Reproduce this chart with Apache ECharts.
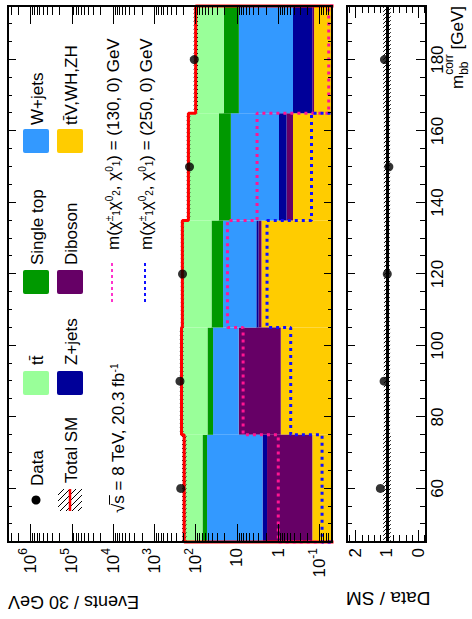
<!DOCTYPE html>
<html>
<head>
<meta charset="utf-8">
<script src="https://cdn.jsdelivr.net/npm/echarts@6.0.0/dist/echarts.min.js"></script>
<style>
  html, body { margin: 0; padding: 0; width: 472px; height: 619px; overflow: hidden; background: #fff; }
  /* The plot is laid out landscape (619 x 472) and turned a quarter turn counter-clockwise. */
  #chart { position: absolute; left: 0; top: 0; width: 619px; height: 472px;
           transform-origin: 0 0; transform: translateY(619px) rotate(-90deg); }
</style>
</head>
<body>
<div id="chart"></div>
<script>
// ---- m_bb^corr binning [GeV] ----
const binEdges = [45, 75, 105, 135, 165, 195];
const binCenters = [60, 90, 120, 150, 180];

// ---- expected events per 30 GeV bin, per background ----
const ttV = [0.15, 0.87, 2.55, 0.44, 0.136];
const diboson = [1.72, 8.13, 0.45, 0.19, 0.014];
const zjets = [0.54, 0.10, 0.40, 0.33, 0.29];
const wjets = [50.6, 28.8, 18.3, 13.1, 8.56];
const singleTop = [15.4, 13.9, 19.7, 13.5, 11.9];
const ttbar = [121.6, 168.2, 168.6, 122.4, 79.1];

// ---- observed data ----
const data = [230, 240, 208, 141, 108];

// ---- signal benchmarks m(chi1+-chi20, chi10) ----
const sig130 = [1.0, 7.1, 17.0, 3.26, 0.060];
const sig250 = [0.087, 0.50, 1.87, 0.157, 0.03];

// ---- relative uncertainty of the total SM prediction ----
const sysFrac = [0.12, 0.10, 0.09, 0.10, 0.12];

// ---- tick labels ----
const massTicks = [60, 80, 100, 120, 140, 160, 180];
const eventTicks = [0.1, 1, 10, 100, 1e3, 1e4, 1e5, 1e6];
const ratioTicks = [0, 1, 2];

const FONT = "'Liberation Sans', Arial, Helvetica, sans-serif";
const Y_MIN = 0.05, Y_MAX = 3.5e6;
const R_MIN = -0.24, R_MAX = 2.27;
const X_MIN = binEdges[0], X_MAX = binEdges[binEdges.length - 1];

// minor tick positions
const massMinor = [];
for (let m = X_MIN + 5; m < X_MAX; m += 5) massMinor.push(m);
const logMinor = [];
for (let k = -2; k <= 6; k++) for (let m = 2; m <= 9; m++) {
  const v = m * Math.pow(10, k);
  if (v > Y_MIN && v < Y_MAX) logMinor.push(v);
}
const ratioMinor = [];
for (let r = -2; r <= 22; r += 2) ratioMinor.push(r / 10);

const layers = [
  { name: 'tt\u0304V,WH,ZH', vals: ttV, color: '#FFCC00' },
  { name: 'Diboson', vals: diboson, color: '#660066' },
  { name: 'Z+jets', vals: zjets, color: '#000099' },
  { name: 'W+jets', vals: wjets, color: '#3399FF' },
  { name: 'Single top', vals: singleTop, color: '#009900' },
  { name: 'tt\u0304', vals: ttbar, color: '#99FF99' }
];

// ---- helpers ----
function hatchLines(x, y, w, h, step, color, lw) {
  const out = [];
  // lines of slope +1 (x - y = c), anchored to a global lattice
  const cStart = Math.ceil((x - (y + h)) / step) * step;
  for (let c = cStart; c <= x + w - y; c += step) {
    const y0 = Math.max(y, x - c);
    const y1 = Math.min(y + h, x + w - c);
    if (y1 > y0) out.push({ type: 'line', shape: { x1: y0 + c, y1: y0, x2: y1 + c, y2: y1 },
      style: { stroke: color, lineWidth: lw } });
  }
  return out;
}

function stepPath(vals, floor) {
  const pts = [[binEdges[0], floor]];
  vals.forEach((v, i) => { pts.push([binEdges[i], v]); pts.push([binEdges[i + 1], v]); });
  pts.push([binEdges[binEdges.length - 1], floor]);
  return pts;
}

function powerLabel(v) {
  const e = Math.round(Math.log10(v));
  if (e === 0) return '1';
  if (e === 1) return '10';
  return '{b|10}{e|' + e + '}';
}

const rich = {
  b: { fontSize: 17, fontFamily: FONT, fontWeight: 'normal', color: '#000', lineHeight: 26 },
  e: { fontSize: 12, fontFamily: FONT, fontWeight: 'normal', color: '#000', lineHeight: 12, verticalAlign: 'top' },
  sup: { fontSize: 10, fontFamily: FONT, fontWeight: 'normal', color: '#000', lineHeight: 12, verticalAlign: 'top' },
  sub: { fontSize: 10, fontFamily: FONT, fontWeight: 'normal', color: '#000', lineHeight: 12, verticalAlign: 'bottom' }
};

function xAxisDef(grid, pos, ticks, len, withLabels) {
  return {
    type: 'value', gridIndex: grid, position: pos, min: X_MIN, max: X_MAX, z: 10,
    axisLine: { show: true, onZero: false, lineStyle: { color: '#000', width: 2 } },
    axisTick: { show: true, inside: true, length: len, customValues: ticks, lineStyle: { color: '#000', width: 1 } },
    axisLabel: withLabels
      ? { show: true, customValues: massTicks, margin: 3, color: '#000', fontSize: 17, fontFamily: FONT }
      : { show: false },
    splitLine: { show: false }
  };
}

function logAxisDef(pos, ticks, len, withLabels) {
  return {
    type: 'log', logBase: 10, gridIndex: 0, position: pos, min: Y_MIN, max: Y_MAX, z: 10,
    axisLine: { show: true, onZero: false, lineStyle: { color: '#000', width: 2 } },
    axisTick: { show: true, inside: true, length: len, customValues: ticks, lineStyle: { color: '#000', width: 1 } },
    axisLabel: withLabels
      ? { show: true, customValues: eventTicks, margin: 6, color: '#000', fontSize: 17, fontFamily: FONT,
          formatter: powerLabel, rich: rich }
      : { show: false },
    splitLine: { show: false }
  };
}

function ratioAxisDef(pos, ticks, len, withLabels) {
  return {
    type: 'value', gridIndex: 1, position: pos, min: R_MIN, max: R_MAX, z: 10,
    axisLine: { show: true, onZero: false, lineStyle: { color: '#000', width: 2 } },
    axisTick: { show: true, inside: true, length: len, customValues: ticks, lineStyle: { color: '#000', width: 1 } },
    axisLabel: withLabels
      ? { show: true, customValues: ratioTicks, margin: 6, color: '#000', fontSize: 17, fontFamily: FONT }
      : { show: false },
    splitLine: { show: false }
  };
}

// ---- stacked backgrounds ----
const series = [];
const cum = binCenters.map(() => 0);
layers.forEach(L => {
  const items = L.vals.map((v, i) => {
    const lo = cum[i] > 0 ? cum[i] : Y_MIN;
    cum[i] += v;
    return [binEdges[i], binEdges[i + 1], lo, cum[i]];
  });
  series.push({
    type: 'custom', name: L.name, xAxisIndex: 0, yAxisIndex: 0, clip: true, z: 2,
    encode: { x: [0, 1], y: [2, 3] },
    itemStyle: { color: L.color },
    data: items,
    renderItem: function (params, api) {
      const p0 = api.coord([api.value(0), api.value(3)]);
      const p1 = api.coord([api.value(1), api.value(2)]);
      return { type: 'rect', shape: { x: p0[0], y: p0[1], width: p1[0] - p0[0], height: p1[1] - p0[1] },
        style: { fill: api.visual('color'), stroke: null } };
    }
  });
});
const totalSM = cum.slice();

// ---- uncertainty band on the total ----
function bandSeries(xi, yi, lowArr, highArr) {
  return {
    type: 'custom', xAxisIndex: xi, yAxisIndex: yi, clip: true, z: 3, silent: true,
    encode: { x: [0, 1], y: [2, 3] },
    data: binCenters.map((c, i) => [binEdges[i], binEdges[i + 1], lowArr[i], highArr[i]]),
    renderItem: function (params, api) {
      const p0 = api.coord([api.value(0), api.value(3)]);
      const p1 = api.coord([api.value(1), api.value(2)]);
      return { type: 'group', children: hatchLines(p0[0], p0[1], p1[0] - p0[0], p1[1] - p0[1], 4, '#000', 1) };
    }
  };
}
series.push(bandSeries(0, 0, totalSM.map((t, i) => t * (1 - sysFrac[i])), totalSM.map((t, i) => t * (1 + sysFrac[i]))));

// ---- total SM line ----
series.push({
  type: 'line', name: 'Total SM', xAxisIndex: 0, yAxisIndex: 0, z: 4, silent: true,
  symbol: 'none', clip: true, animation: false,
  lineStyle: { color: '#FF0000', width: 3 },
  data: stepPath(totalSM, Y_MIN / 3)
});

// ---- signal benchmarks ----
series.push({
  type: 'line', name: 'sig130', xAxisIndex: 0, yAxisIndex: 0, z: 5, silent: true,
  symbol: 'none', clip: true, animation: false,
  lineStyle: { color: '#FF1493', width: 3, type: [3, 4] },
  data: stepPath(sig130, Y_MIN / 3)
});
series.push({
  type: 'line', name: 'sig250', xAxisIndex: 0, yAxisIndex: 0, z: 5, silent: true,
  symbol: 'none', clip: true, animation: false,
  lineStyle: { color: '#1010FF', width: 3, type: [3, 4] },
  data: stepPath(sig250, Y_MIN / 3)
});

// ---- data points ----
series.push({
  type: 'scatter', name: 'Data', xAxisIndex: 0, yAxisIndex: 0, z: 12, silent: true,
  symbol: 'circle', symbolSize: 9, itemStyle: { color: '#000' },
  data: binCenters.map((c, i) => [c, data[i]])
});

// ---- ratio panel ----
series.push(bandSeries(4, 4, sysFrac.map(f => 1 - f), sysFrac.map(f => 1 + f)));
series.push({
  type: 'scatter', name: 'Data / SM', xAxisIndex: 4, yAxisIndex: 4, z: 12, silent: true,
  symbol: 'circle', symbolSize: 9, itemStyle: { color: '#000' },
  data: binCenters.map((c, i) => [c, data[i] / totalSM[i]]),
  markLine: { silent: true, symbol: 'none', label: { show: false }, animation: false,
    lineStyle: { color: '#000', width: 3, type: 'solid' }, data: [{ yAxis: 1 }] }
});

// ---- legend, titles ----
const meas = document.createElement('canvas').getContext('2d');
function textWidth(str, size) { meas.font = size + 'px ' + FONT; return meas.measureText(str).width; }

function txt(x, y, text, size, opts) {
  return Object.assign({
    type: 'text', x: x, y: y, z: 50,
    style: Object.assign({ text: text, fill: '#000', fontSize: size, fontFamily: FONT, fontWeight: 'normal',
      align: 'left', textAlign: 'left', verticalAlign: 'middle', textVerticalAlign: 'middle', rich: rich }, (opts && opts.style) || {})
  }, (opts && opts.el) || {});
}
function box(x, y, color) {
  return { type: 'rect', z: 50, shape: { x: x, y: y, width: 24, height: 26, r: 2 }, style: { fill: color } };
}

const byName = {};
layers.forEach(L => byName[L.name] = L.color);

const graphics = [];
// row 1
graphics.push({ type: 'circle', z: 50, shape: { cx: 119, cy: 36, r: 4.5 }, style: { fill: '#000' } });
graphics.push(txt(133, 37, 'Data', 17));
graphics.push(box(224, 23, byName['tt\u0304']));
graphics.push(txt(254, 37, 'tt\u0304', 17));
graphics.push(box(325, 23, byName['Single top']));
graphics.push(txt(354, 37, 'Single top', 17));
graphics.push(box(466, 23, byName['W+jets']));
graphics.push(txt(494, 37, 'W+jets', 17));
// row 2
graphics.push({ type: 'group', z: 50, children: hatchLines(108, 58, 22, 24, 6, '#000', 1) });
graphics.push({ type: 'line', z: 60, shape: { x1: 108, y1: 70, x2: 130, y2: 70 }, style: { stroke: '#FF0000', lineWidth: 2.5 } });
graphics.push(txt(136, 71, 'Total SM', 17));
graphics.push(box(224, 57, byName['Z+jets']));
graphics.push(txt(254, 71, 'Z+jets', 17));
graphics.push(box(325, 57, byName['Diboson']));
graphics.push(txt(354, 71, 'Diboson', 17));
graphics.push(box(466, 57, byName['tt\u0304V,WH,ZH']));
graphics.push(txt(494, 71, 'tt\u0304V,WH,ZH', 17));
// row 3 / 4
graphics.push(txt(106, 118, '\u221As = 8 TeV, 20.3 fb{sup|-1}', 17));
const rootW = textWidth('\u221A', 17), sW = textWidth('s', 17);
graphics.push({ type: 'line', z: 51, shape: { x1: 106 + rootW - 1, y1: 109.5, x2: 106 + rootW + sW, y2: 109.5 },
  style: { stroke: '#000', lineWidth: 1 } });
graphics.push({ type: 'line', z: 51, shape: { x1: 317, y1: 112, x2: 359, y2: 112 },
  style: { stroke: '#FF33CC', lineWidth: 2, lineDash: [3, 3] } });
graphics.push(txt(369, 113, 'm(\u03C7{sup|\u00B1}{sub|1}\u03C7{sup|0}{sub|2}, \u03C7{sup|0}{sub|1}) = (130, 0) GeV', 17));
graphics.push({ type: 'line', z: 51, shape: { x1: 317, y1: 145, x2: 359, y2: 145 },
  style: { stroke: '#1010FF', lineWidth: 2, lineDash: [3, 3] } });
graphics.push(txt(369, 146, 'm(\u03C7{sup|\u00B1}{sub|1}\u03C7{sup|0}{sub|2}, \u03C7{sup|0}{sub|1}) = (250, 0) GeV', 17));

// axis titles
graphics.push(txt(17, 8, 'Events / 30 GeV', 18, { el: { rotation: Math.PI / 2 }, style: { align: 'right', textAlign: 'right' } }));
graphics.push(txt(21, 346, 'Data / SM', 19, { el: { rotation: Math.PI / 2 }, style: { align: 'right', textAlign: 'right' } }));
const gevW = textWidth(' [GeV]', 17);
const scW = Math.max(textWidth('corr', 12), textWidth('bb', 12));
graphics.push(txt(613, 457, ' [GeV]', 17, { style: { align: 'right', textAlign: 'right' } }));
graphics.push(txt(613 - gevW - scW, 449, 'corr', 12));
graphics.push(txt(613 - gevW - scW, 464, 'bb', 12));
graphics.push(txt(613 - gevW - scW, 457, 'm', 17, { style: { align: 'right', textAlign: 'right' } }));

const chart = echarts.init(document.getElementById('chart'), null, { renderer: 'svg', width: 619, height: 472 });
chart.setOption({
  animation: false,
  backgroundColor: '#fff',
  grid: [
    { left: 77, top: 8, width: 536, height: 324, containLabel: false },
    { left: 77, top: 347, width: 536, height: 79, containLabel: false }
  ],
  xAxis: [
    xAxisDef(0, 'bottom', massTicks, 8, false),
    xAxisDef(0, 'bottom', massMinor, 4, false),
    xAxisDef(0, 'top', massTicks, 8, false),
    xAxisDef(0, 'top', massMinor, 4, false),
    xAxisDef(1, 'bottom', massTicks, 10, true),
    xAxisDef(1, 'bottom', massMinor, 6, false),
    xAxisDef(1, 'top', massTicks, 8, false),
    xAxisDef(1, 'top', massMinor, 5, false)
  ],
  yAxis: [
    logAxisDef('left', eventTicks, 18, true),
    logAxisDef('left', logMinor, 9, false),
    logAxisDef('right', eventTicks, 18, false),
    logAxisDef('right', logMinor, 9, false),
    ratioAxisDef('left', ratioTicks, 12, true),
    ratioAxisDef('left', ratioMinor, 7, false),
    ratioAxisDef('right', ratioTicks, 12, false),
    ratioAxisDef('right', ratioMinor, 7, false)
  ],
  series: series,
  graphic: graphics
});
</script>
</body>
</html>
